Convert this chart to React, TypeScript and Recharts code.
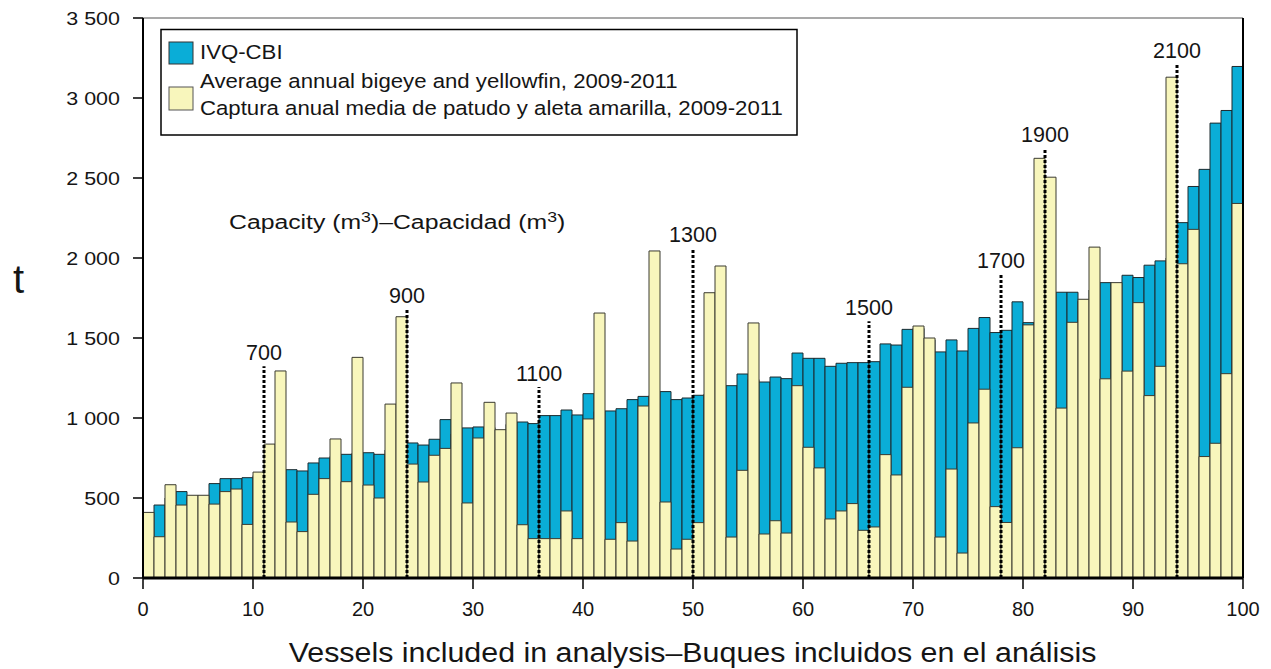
import { BarChart, Bar, XAxis, YAxis, ReferenceLine } from "recharts";

// IVQ-CBI per vessel (t), vessels ordered by capacity
const ivq = [
  400, 456, 500, 540, 510, 510, 590, 621, 621, 627,
  640, 660, 670, 677, 669, 719, 750, 760, 773, 780,
  783, 773, 800, 830, 844, 831, 867, 990, 900, 938,
  944, 940, 920, 960, 975, 965, 1015, 1015, 1050, 1019,
  1152, 1040, 1044, 1058, 1115, 1135, 1140, 1165, 1115, 1125,
  1142, 1150, 1180, 1202, 1275, 1240, 1225, 1256, 1246, 1406,
  1373, 1373, 1323, 1342, 1346, 1346, 1352, 1463, 1456, 1554,
  1560, 1490, 1413, 1488, 1419, 1560, 1628, 1534, 1548, 1726,
  1596, 1600, 1700, 1786, 1786, 1730, 1800, 1846, 1840, 1892,
  1878, 1955, 1982, 2000, 2221, 2447, 2554, 2843, 2922, 3197,
];

// average annual bigeye + yellowfin catch 2009-2011 (t)
const catchAvg = [
  410, 258, 583, 456, 517, 517, 462, 540, 556, 335,
  662, 837, 1294, 350, 290, 523, 621, 869, 602, 1379,
  581, 500, 1087, 1633, 712, 600, 767, 810, 1219, 469,
  875, 1098, 927, 1031, 333, 246, 246, 246, 419, 246,
  994, 1656, 242, 346, 231, 1075, 2044, 475, 181, 242,
  346, 1783, 1950, 256, 673, 1594, 275, 358, 281, 1202,
  817, 688, 369, 419, 465, 298, 319, 771, 644, 1192,
  1575, 1500, 256, 681, 156, 969, 1180, 446, 347, 814,
  1582, 2623, 2505, 1062, 1598, 1742, 2068, 1245, 1846, 1293,
  1721, 1140, 1323, 3130, 1964, 2179, 759, 842, 1277, 2341,
];

// capacity class markers (m3): vessel position and height of dotted line
const capLabels = ["700", "900", "1100", "1300", "1500", "1700", "1900", "2100"];
const capX = [11, 24, 36, 50, 66, 78, 82, 94];
const capTop = [1323, 1681, 1194, 2062, 1604, 1901, 2688, 3215];

const xTicks = [0, 10, 20, 30, 40, 50, 60, 70, 80, 90, 100];
const yTicks = [0, 500, 1000, 1500, 2000, 2500, 3000, 3500];

const rows = ivq.map((v, i) => ({ vessel: i + 1, pos: i + 0.5, ivq: v, catchAvg: catchAvg[i] }));

const FONT = "'Liberation Sans', Arial, Helvetica, sans-serif";
const BLUE = "#0aadd7";
const YELLOW = "#f8f6bc";
const INK = "#151515";

const fmt = (v: number) => (v >= 1000 ? `${Math.floor(v / 1000)} ${String(v % 1000).padStart(3, "0")}` : String(v));

const YTick = (props: any) => {
  const { x, y, payload } = props;
  return (
    <g transform={`translate(${x},${y}) scale(1.13,1)`}>
      <text x={0} y={0} dy="0.36em" textAnchor="end" fontSize={19} fill={INK} fontFamily={FONT}>
        {fmt(payload.value)}
      </text>
    </g>
  );
};

const XTick = (props: any) => {
  const { x, y, payload } = props;
  return (
    <text x={x} y={y} dy="0.72em" textAnchor="middle" fontSize={20} fill={INK} fontFamily={FONT}>
      {payload.value}
    </text>
  );
};

const capLabel = (text: string) => (props: any) => {
  const vb = props.viewBox || {};
  if (vb.x == null) return null;
  return (
    <text x={vb.x} y={vb.y - 6} textAnchor="middle" fontSize={21.5} fill={INK} fontFamily={FONT}>
      {text}
    </text>
  );
};

const SText = ({ x, y, size, sx = 1, anchor = "start", children }: any) => (
  <g transform={`translate(${x},${y}) scale(${sx},1)`}>
    <text x={0} y={0} fontSize={size} textAnchor={anchor} fill={INK} fontFamily={FONT}>
      {children}
    </text>
  </g>
);

export default function App() {
  return (
    <div style={{ position: "absolute", left: 0, top: 0, width: 1271, height: 669, background: "#fff" }}>
      <BarChart
        width={1271}
        height={669}
        data={rows}
        margin={{ top: 18, right: 28, left: 63, bottom: 51 }}
        barGap="-100%"
        barCategoryGap={0}
      >
        <XAxis xAxisId="cat" dataKey="vessel" hide height={0} />
        <XAxis
          xAxisId="num"
          type="number"
          dataKey="pos"
          domain={[0, 100]}
          ticks={xTicks}
          interval={0}
          allowDataOverflow
          height={40}
          tickSize={11}
          tickMargin={13}
          tick={XTick}
          axisLine={{ stroke: "#000", strokeWidth: 3 }}
          tickLine={{ stroke: "#000", strokeWidth: 1.5 }}
        />
        <YAxis
          domain={[0, 3500]}
          ticks={yTicks}
          interval={0}
          allowDataOverflow
          width={80}
          tickSize={10}
          tickMargin={13}
          tick={YTick}
          axisLine={{ stroke: "#000", strokeWidth: 2 }}
          tickLine={{ stroke: "#000", strokeWidth: 1.5 }}
        />
        <Bar xAxisId="cat" dataKey="ivq" fill={BLUE} stroke="#1d2a2e" strokeWidth={1} isAnimationActive={false} />
        <Bar xAxisId="cat" dataKey="catchAvg" fill={YELLOW} stroke="#3a3a30" strokeWidth={1} isAnimationActive={false} />
        <ReferenceLine xAxisId="num" y={3500} stroke="#555" strokeWidth={1.2} />
        <ReferenceLine xAxisId="num" x={100} stroke="#000" strokeWidth={2} />
        {capX.map((cx, i) => (
          <ReferenceLine
            key={capLabels[i]}
            xAxisId="num"
            segment={[{ x: cx, y: 0 }, { x: cx, y: capTop[i] }]}
            stroke="#000"
            strokeWidth={3}
            strokeDasharray="3 2"
            label={capLabel(capLabels[i])}
          />
        ))}
      </BarChart>

      <svg width={1271} height={669} style={{ position: "absolute", left: 0, top: 0, pointerEvents: "none" }}>
        <SText x={13} y={293} size={40}>t</SText>

        <rect x={161} y={29.5} width={636} height={105.5} fill="#fff" stroke="#000" strokeWidth={1.5} />
        <rect x={169} y={42} width={24} height={22} fill={BLUE} stroke="#333" strokeWidth={1} />
        <rect x={169} y={87} width={24} height={23} fill={YELLOW} stroke="#555" strokeWidth={1} />
        <SText x={200} y={59} size={19.3} sx={1.15}>IVQ-CBI</SText>
        <SText x={200} y={88} size={19.3} sx={1.15}>Average annual bigeye and yellowfin, 2009-2011</SText>
        <SText x={200} y={115} size={19.3} sx={1.15}>Captura anual media de patudo y aleta amarilla, 2009-2011</SText>

        <SText x={229} y={229} size={21} sx={1.18}>
          Capacity (m<tspan dy={-7} fontSize={15}>3</tspan>
          <tspan dy={7}>)–Capacidad (m</tspan>
          <tspan dy={-7} fontSize={15}>3</tspan>
          <tspan dy={7}>)</tspan>
        </SText>

        <SText x={692.5} y={662} size={28} sx={1.086} anchor="middle">
          Vessels included in analysis–Buques incluidos en el análisis
        </SText>
      </svg>
    </div>
  );
}
